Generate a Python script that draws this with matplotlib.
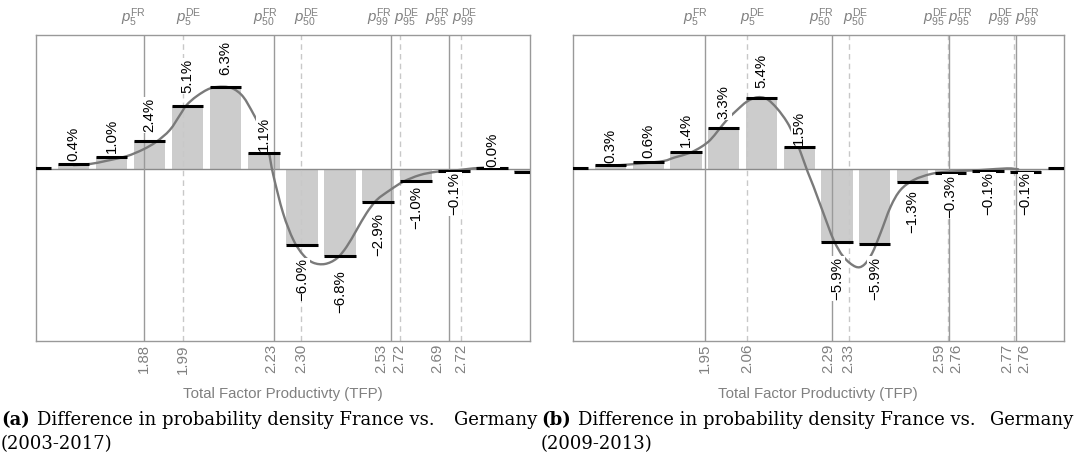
import matplotlib
matplotlib.use('Agg')
import matplotlib.pyplot as plt
from matplotlib.transforms import blended_transform_factory
from matplotlib.path import Path
from matplotlib.patches import PathPatch

plt.rcParams['font.family'] = ['Liberation Sans', 'DejaVu Sans']
plt.rcParams['mathtext.fontset'] = 'custom'
plt.rcParams['mathtext.rm'] = 'Liberation Sans'
plt.rcParams['mathtext.it'] = 'Liberation Sans:italic'
plt.rcParams['mathtext.bf'] = 'Liberation Sans:bold'

# ---------------- data: panel (a) 2003-2017 ----------------
bins_a = list(range(14))
heights_a = [0.10, 0.39, 0.91, 2.17, 4.88, 6.33, 1.22, -5.89, -6.74, -2.53, -0.93, -0.16, 0.10, -0.26]
labels_a = [None, 0.4, 1.0, 2.4, 5.1, 6.3, 1.1, -6.0, -6.8, -2.9, -1.0, -0.1, 0.0, None]
curve_a_x = [1.0, 1.43, 1.87, 2.40, 2.83, 3.18, 3.53, 3.80, 3.97, 4.24, 4.59, 4.94, 5.20, 5.46,
             5.72, 5.94, 6.12, 6.25, 6.51, 6.78, 7.04, 7.30, 7.61, 7.92, 8.18, 8.44, 8.70,
             8.97, 9.32, 9.67, 10.1, 10.54, 10.98, 11.5, 11.9]
curve_a_y = [0.30, 0.39, 0.64, 1.00, 1.52, 2.12, 3.02, 4.20, 4.95, 5.65, 6.25, 6.38, 6.22, 5.60,
             4.32, 3.02, 1.47, -0.45, -3.43, -5.50, -6.67, -7.26, -7.36, -6.93, -6.02, -4.73, -3.43,
             -2.40, -1.63, -0.98, -0.47, -0.21, -0.13, 0.05, 0.12]
pct_names_a = [('5', 'FR'), ('5', 'DE'), ('50', 'FR'), ('50', 'DE'),
               ('99', 'FR'), ('95', 'DE'), ('95', 'FR'), ('99', 'DE')]
pct_pos_a = [2.85, 3.87, 6.27, 6.98, 9.34, 9.59, 10.86, 11.19]
pct_vals_a = ['1.88', '1.99', '2.23', '2.30', '2.53', '2.72', '2.69', '2.72']

# ---------------- data: panel (b) 2009-2013 ----------------
bins_b = list(range(14))
heights_b = [0.05, 0.29, 0.52, 1.29, 3.15, 5.48, 1.73, -5.68, -5.81, -1.03, -0.33, -0.16, -0.20, 0.05]
labels_b = [None, 0.3, 0.6, 1.4, 3.3, 5.4, 1.5, -5.9, -5.9, -1.3, -0.3, -0.1, -0.1, None]
curve_b_x = [1.0, 1.2, 1.84, 2.40, 2.70, 3.10, 3.41, 3.64, 3.86, 4.08, 4.35, 4.61, 4.88, 5.14,
             5.41, 5.67, 5.85, 6.03, 6.22, 6.38, 6.64, 6.91, 7.17, 7.49, 7.71, 7.93, 8.15,
             8.42, 8.68, 9.03, 9.48, 9.92, 10.8, 11.5, 11.8]
curve_b_y = [0.25, 0.29, 0.44, 0.62, 0.90, 1.25, 1.73, 2.25, 3.02, 3.80, 4.57, 5.22, 5.56, 5.43,
             4.70, 3.67, 2.64, 1.34, -0.20, -1.37, -3.43, -5.50, -6.80, -7.57, -7.44, -6.53, -4.98,
             -2.92, -1.63, -0.85, -0.39, -0.21, -0.08, 0.05, -0.02]
pct_names_b = [('5', 'FR'), ('5', 'DE'), ('50', 'FR'), ('50', 'DE'),
               ('95', 'DE'), ('95', 'FR'), ('99', 'DE'), ('99', 'FR')]
pct_pos_b = [3.49, 4.61, 6.87, 7.31, 9.95, 9.97, 11.68, 11.75]
pct_vals_b = ['1.95', '2.06', '2.29', '2.33', '2.59', '2.76', '2.77', '2.76']

xlabel_text = 'Total Factor Productivty (TFP)'
caption_a = ('(a)', 'Difference in probability density France vs.', 'Germany', '(2003-2017)')
caption_b = ('(b)', 'Difference in probability density France vs.', 'Germany', '(2009-2013)')

# ---------------- layout / style ----------------
DPI = 100
W, H = 1074, 455
PX = 72.0 / DPI  # points per pixel
GRAY_TXT = '#808080'
FS = 10.8

# label offsets (pixels) for the top / bottom percentile labels (repelled)
top_dx_a = [-10, 6, -9, 6, -11, 6, -11, 4]
bot_dx_a = [0, 0, -3, 0, -10, -1, -11, 0]
top_dx_b = [-9, 6, -11, 7, -13, 11, -13, 11]
bot_dx_b = [0, 0, -4, 0, -9, 7, -6, 8]

fig = plt.figure(figsize=(W / DPI, H / DPI), dpi=DPI)
ax_a = fig.add_axes([35.5 / W, (H - 341) / H, 494.5 / W, 306 / H])
ax_b = fig.add_axes([572.8 / W, (H - 341) / H, 490.7 / W, 306 / H])


def fmt(v):
    s = f'{abs(v):.1f}%'
    return ('\u2212' + s) if v < 0 else s


def smooth_path(xs, ys):
    # draw the read points as a smooth Bezier path (Catmull-Rom handles)
    pts = list(zip(xs, ys))
    n = len(pts)
    verts = [pts[0]]
    codes = [Path.MOVETO]
    for i in range(n - 1):
        p0 = pts[i - 1] if i > 0 else pts[i]
        p1 = pts[i]
        p2 = pts[i + 1]
        p3 = pts[i + 2] if i + 2 < n else pts[i + 1]
        c1 = (p1[0] + (p2[0] - p0[0]) / 6.0, p1[1] + (p2[1] - p0[1]) / 6.0)
        c2 = (p2[0] - (p3[0] - p1[0]) / 6.0, p2[1] - (p3[1] - p1[1]) / 6.0)
        verts += [c1, c2, p2]
        codes += [Path.CURVE4] * 3
    return Path(verts, codes)


def panel(ax, bins, heights, labels, cx, cy, names, pos, vals, tdx, bdx):
    ax.set_xlim(0, 13)
    ax.set_ylim(-13.33, 10.39)
    ax.set_xticks([])
    ax.set_yticks([])
    for s in ax.spines.values():
        s.set_color('#999999')
        s.set_linewidth(1.0)
    ax.axhline(0, color='#8a8a8a', lw=1.0, zorder=1.5)
    bw = 0.83
    ax.bar(bins, heights, width=bw, color='#cccccc', zorder=1)
    # percentile lines
    for (sub, c), p in zip(names, pos):
        if c == 'FR':
            ax.axvline(p, color='#9a9a9a', lw=1.0, zorder=2)
        else:
            ax.axvline(p, color='#c8c8c8', lw=1.0, ls=(0, (4, 3)), zorder=2)
    # smooth curve
    ax.add_patch(PathPatch(smooth_path(cx, cy), facecolor='none', edgecolor='#7a7a7a',
                           lw=1.7, zorder=3, capstyle='round', joinstyle='round'))
    # black crossbars at bar tops
    ax.hlines(heights, [b - bw / 2 for b in bins], [b + bw / 2 for b in bins],
              colors='black', lw=2.2, zorder=4)
    # value labels
    for b, v in zip(bins, labels):
        if v is None:
            continue
        sgn = 1 if v >= 0 else -1
        y = v * 1.13 + sgn * 0.15
        ax.text(b, y, fmt(v), rotation=90, ha='center',
                va='bottom' if sgn > 0 else 'top', fontsize=FS, color='black',
                zorder=6, bbox=dict(facecolor='white', edgecolor='none', pad=0.6))
    tr = blended_transform_factory(ax.transData, ax.transAxes)
    for (sub, c), p, v, dt, db in zip(names, pos, vals, tdx, bdx):
        ax.annotate(r'$p_{%s}^{\mathrm{%s}}$' % (sub, c), xy=(p, 1), xycoords=tr,
                    xytext=(dt * PX, 6 * PX), textcoords='offset points',
                    ha='center', va='bottom', fontsize=FS, color=GRAY_TXT,
                    annotation_clip=False)
        ax.annotate(v, xy=(p, 0), xycoords=tr, xytext=(db * PX, -3 * PX),
                    textcoords='offset points', ha='center', va='top', rotation=90,
                    fontsize=FS, color=GRAY_TXT, annotation_clip=False)
    ax.text(0.5, -0.173, xlabel_text, transform=ax.transAxes, ha='center', va='center',
            fontsize=FS, color=GRAY_TXT)


panel(ax_a, bins_a, heights_a, labels_a, curve_a_x, curve_a_y, pct_names_a, pct_pos_a,
      pct_vals_a, top_dx_a, bot_dx_a)
panel(ax_b, bins_b, heights_b, labels_b, curve_b_x, curve_b_y, pct_names_b, pct_pos_b,
      pct_vals_b, top_dx_b, bot_dx_b)

# captions
CAP_FS = 13.0
fig.canvas.draw()
renderer = fig.canvas.get_renderer()


def caption(cap, x0, x1):
    tag, main, last, line2 = cap
    y1 = (H - 425) / H
    y2 = (H - 449) / H
    t = fig.text(x0 / W, y1, tag, family='DejaVu Serif', weight='bold', fontsize=CAP_FS,
                 va='baseline', ha='left')
    bb = t.get_window_extent(renderer)
    fig.text((bb.x1 + 7) / W, y1, main, family='DejaVu Serif', fontsize=CAP_FS,
             va='baseline', ha='left')
    fig.text(x1 / W, y1, last, family='DejaVu Serif', fontsize=CAP_FS,
             va='baseline', ha='right')
    fig.text(x0 / W, y2, line2, family='DejaVu Serif', fontsize=CAP_FS,
             va='baseline', ha='left')


caption(caption_a, 1, 537)
caption(caption_b, 541, 1073)

fig.savefig('out.png', dpi=DPI)
